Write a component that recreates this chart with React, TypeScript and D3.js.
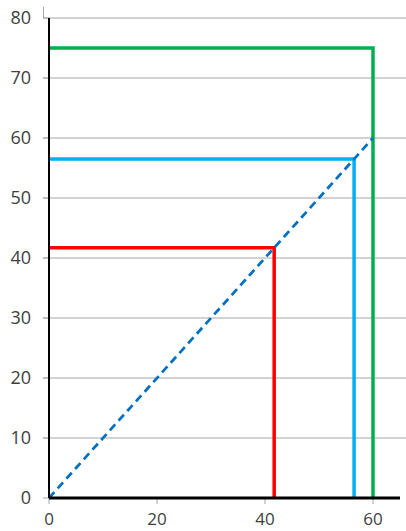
import React from "react";
import * as d3 from "d3";

const yTicks = [0, 10, 20, 30, 40, 50, 60, 70, 80];
const xTicks = [0, 20, 40, 60];
const redPts: [number, number][] = [[0, 41.7], [41.7, 41.7], [41.7, 0]];
const bluePts: [number, number][] = [[0, 56.5], [56.5, 56.5], [56.5, 0]];
const greenPts: [number, number][] = [[0, 75], [60, 75], [60, 0]];
const diagPts: [number, number][] = [[0, 0], [60, 60]];

export default function App() {
  const W = 406, H = 531;
  const x = d3.scaleLinear().domain([0, 65]).range([49, 400]);
  const y = d3.scaleLinear().domain([0, 80]).range([498, 18]);
  const line = d3.line<[number, number]>().x(d => x(d[0])).y(d => y(d[1]));
  const font = "'Open Sans', 'Noto Sans', sans-serif";
  return (
    <svg width={W} height={H} style={{ position: "absolute", left: 0, top: 0, background: "#fff" }}>
      {yTicks.map(t => (
        <g key={"y" + t}>
          {t > 0 && <line x1={43} x2={406} y1={y(t)} y2={y(t)} stroke="#A6A6A6" strokeWidth={1} />}
          <line x1={43} x2={49} y1={y(t)} y2={y(t)} stroke="#A6A6A6" strokeWidth={1} />
          <text x={31} y={y(t)} dy="0.36em" textAnchor="end" fontSize={18} fontFamily={font} fill="#404040">{t}</text>
        </g>
      ))}
      <line x1={43.5} x2={43.5} y1={7} y2={18} stroke="#A6A6A6" strokeWidth={1} />
      {xTicks.map(t => (
        <g key={"x" + t}>
          <line x1={x(t)} x2={x(t)} y1={498} y2={504} stroke="#A6A6A6" strokeWidth={1} />
          <text x={x(t)} y={525} textAnchor="middle" fontSize={17} fontFamily={font} fill="#404040">{t}</text>
        </g>
      ))}
      <path d={line(greenPts) || ""} fill="none" stroke="#00B050" strokeWidth={3.5} />
      <path d={line(bluePts) || ""} fill="none" stroke="#00B0F0" strokeWidth={3.5} />
      <path d={line(redPts) || ""} fill="none" stroke="#FF0000" strokeWidth={3.5} />
      <path d={line(diagPts) || ""} fill="none" stroke="#0070C0" strokeWidth={2.75} strokeDasharray="8,5" />
      <line x1={x(0)} x2={x(0)} y1={y(80)} y2={y(0)} stroke="#000" strokeWidth={2} />
      <line x1={x(0)} x2={x(65)} y1={y(0)} y2={y(0)} stroke="#000" strokeWidth={3} />
    </svg>
  );
}
